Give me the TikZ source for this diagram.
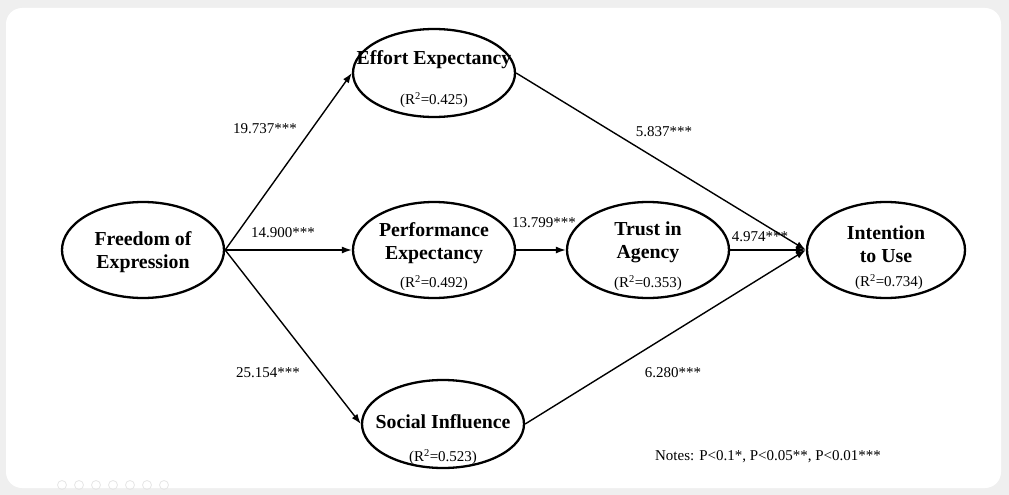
\documentclass[tikz,border=0pt]{standalone}
\usepackage{fontspec}
\setmainfont{Liberation Serif}
\usetikzlibrary{shapes.geometric,arrows.meta}
\definecolor{frame}{HTML}{EFEFEF}
\definecolor{dots}{HTML}{E6E6E6}
\tikzset{
  ell/.style={ellipse,draw=black,line width=2.3pt,inner sep=0pt,minimum width=162pt,minimum height=96pt},
  bt/.style={font=\fontsize{19.8}{23}\selectfont\bfseries,align=center,inner sep=0pt},
  rsq/.style={font=\fontsize{15}{18}\selectfont,inner sep=0pt},
  lab/.style={font=\fontsize{15}{18}\selectfont,inner sep=0pt},
  arr/.style={line width=1.4pt,-{Latex[length=10pt,width=7pt]}},
}
\begin{document}
\begin{tikzpicture}[x=1pt,y=-1pt]
\useasboundingbox (0,0) rectangle (1009,495);
\fill[frame] (0,0) rectangle (1009,495);
\fill[white,rounded corners=16pt] (6,8) rectangle (1001,488);
\foreach \i in {0,...,6} \draw[dots,line width=0.8pt] (62+\i*17,485) circle (4.5pt);

\node[ell] (fe) at (143,250) {};
\node[ell,minimum height=88pt] (ee) at (434,73) {};
\node[ell] (pe) at (434,250) {};
\node[ell] (ta) at (648,250) {};
\node[ell,minimum width=158pt] (iu) at (886,250) {};
\node[ell,minimum height=88pt] (si) at (443,424) {};

\node[bt] (fet) at (143,252) {Freedom of\\Expression};
\node[bt] (eet) at (434,60) {Effort Expectancy};
\node[rsq] (eer) at (434,100) {(R\textsuperscript{2}=0.425)};
\node[bt] (pet) at (434,243) {Performance\\Expectancy};
\node[rsq] (per) at (434,283) {(R\textsuperscript{2}=0.492)};
\node[bt] (tat) at (648,242) {Trust in\\Agency};
\node[rsq] (tar) at (648,283) {(R\textsuperscript{2}=0.353)};
\node[bt] (iut) at (886,244) {Intention\\to Use};
\node[rsq] (iur) at (889,282) {(R\textsuperscript{2}=0.734)};
\node[bt] (sit) at (443,422) {Social Influence};
\node[rsq] (sir) at (443,457) {(R\textsuperscript{2}=0.523)};

\draw[arr] (fe.east) -- (ee.west);
\draw[arr] (fe.east) -- (pe.west);
\draw[arr] (fe.east) -- (si.west);
\draw[arr] (pe.east) -- (ta.west);
\draw[arr] (ta.east) -- (iu.west);
\draw[arr] (ee.east) -- (iu.west);
\draw[arr] (si.east) -- (iu.west);

\node[lab] (l1) at (265,129) {19.737***};
\node[lab] (l2) at (283,233) {14.900***};
\node[lab] (l3) at (268,373) {25.154***};
\node[lab] (l4) at (544,223) {13.799***};
\node[lab] (l5) at (760,237) {4.974***};
\node[lab] (l6) at (664,132) {5.837***};
\node[lab] (l7) at (673,373) {6.280***};
\node[lab] (notes) at (768,457) {Notes: P<0.1*, P<0.05**, P<0.01***};
\end{tikzpicture}
\end{document}
